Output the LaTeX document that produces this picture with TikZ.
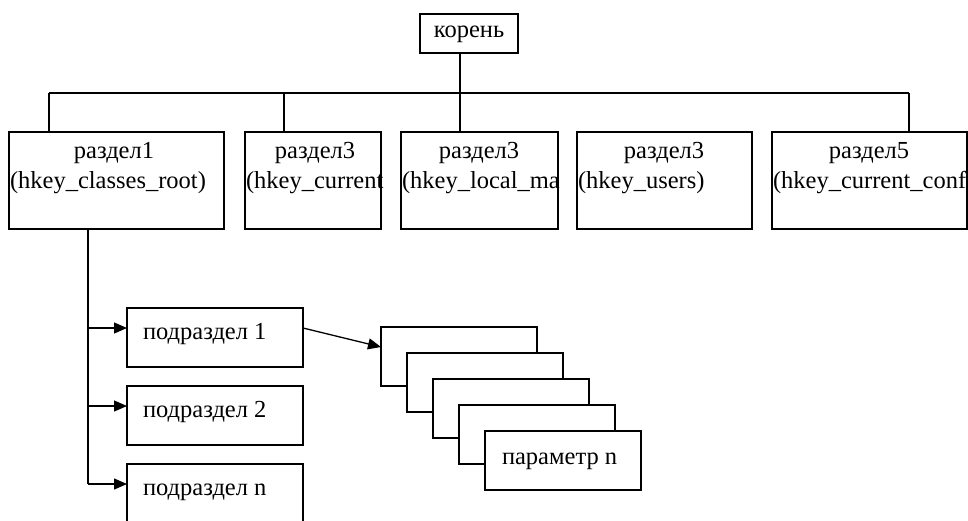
\documentclass[tikz,border=0pt]{standalone}
\usepackage{fontspec}
\setmainfont{Liberation Serif}
\usetikzlibrary{arrows.meta}
\tikzset{
  box/.style={draw=black, line width=1.3pt, fill=white, rectangle, inner sep=0pt, outer sep=0pt, anchor=north west},
  txt/.style={inner sep=0pt, outer sep=0pt, font=\fontsize{24.5pt}{30pt}\selectfont},
  ln/.style={draw=black, line width=1.3pt},
  arr/.style={ln, -{Triangle[length=13pt,width=11pt]}}
}
\begin{document}
\begin{tikzpicture}[x=1pt,y=-1pt]
\useasboundingbox (0,0) rectangle (968,520);
% root
\node[box, minimum width=98pt, minimum height=39pt] (root) at (420,14) {};
\node[txt, anchor=base] (roott) at (469,37) {корень};
% sections
\node[box, minimum width=215pt, minimum height=97pt] (b1) at (9,132) {};
\node[box, minimum width=136pt, minimum height=97pt] (b2) at (245,132) {};
\node[box, minimum width=157pt, minimum height=97pt] (b3) at (401,132) {};
\node[box, minimum width=175pt, minimum height=97pt] (b4) at (577,132) {};
\node[box, minimum width=195pt, minimum height=97pt] (b5) at (772,132) {};
\node[txt, anchor=base] (b1a) at (114,158) {раздел1};
\node[txt, anchor=base] (b2a) at (315,158) {раздел3};
\node[txt, anchor=base] (b3a) at (479,158) {раздел3};
\node[txt, anchor=base] (b4a) at (664,158) {раздел3};
\node[txt, anchor=base] (b5a) at (869,158) {раздел5};
\node[txt, anchor=base west] (b1b) at (10,188) {(hkey\_classes\_root)};
\node[txt, anchor=base west] (b2b) at (246,188) {(hkey\_current};
\node[txt, anchor=base west] (b3b) at (402,188) {(hkey\_local\_ma};
\node[txt, anchor=base west] (b4b) at (578,188) {(hkey\_users)};
\begin{scope}
\clip (b5.south west) rectangle (b5.north east);
\node[txt, anchor=base west] (b5b) at (773,188) {(hkey\_current\_conf};
\end{scope}
% tree connectors
\coordinate (t1) at (49,93);
\coordinate (t2) at (284,93);
\coordinate (t3) at (460,93);
\coordinate (t5) at (909,93);
\draw[ln] (t3 |- root.south) -- (t3);
\draw[ln] (t1) -- (t5);
\draw[ln] (t1) -- (t1 |- b1.north);
\draw[ln] (t2) -- (t2 |- b2.north);
\draw[ln] (t3) -- (t3 |- b3.north);
\draw[ln] (t5) -- (t5 |- b5.north);
% subsections
\node[box, minimum width=176pt, minimum height=59pt] (s1) at (127,308) {};
\node[box, minimum width=176pt, minimum height=59pt] (s2) at (127,386) {};
\node[box, minimum width=176pt, minimum height=59pt] (s3) at (127,464) {};
\node[txt, anchor=base west] (s1t) at (143,339) {подраздел 1};
\node[txt, anchor=base west] (s2t) at (143,417) {подраздел 2};
\node[txt, anchor=base west] (s3t) at (143,495) {подраздел n};
\coordinate (k1) at (88,328);
\coordinate (k2) at (88,406);
\coordinate (k3) at (88,484);
\draw[ln] (k1 |- b1.south) -- (k3);
\draw[arr] (k1) -- (k1 -| s1.west);
\draw[arr] (k2) -- (k2 -| s2.west);
\draw[arr] (k3) -- (k3 -| s3.west);
% parameters
\node[box, minimum width=156pt, minimum height=59pt] (p1) at (381,327) {};
\node[box, minimum width=156pt, minimum height=59pt] (p2) at (407,353) {};
\node[box, minimum width=156pt, minimum height=59pt] (p3) at (433,379) {};
\node[box, minimum width=156pt, minimum height=59pt] (p4) at (459,405) {};
\node[box, minimum width=156pt, minimum height=59pt] (p5) at (485,431) {};
\node[txt, anchor=base west] (p5t) at (502,464) {параметр n};
\draw[arr] ([yshift=9.5pt]s1.east) -- ([yshift=9.5pt]p1.west);
\end{tikzpicture}
\end{document}
